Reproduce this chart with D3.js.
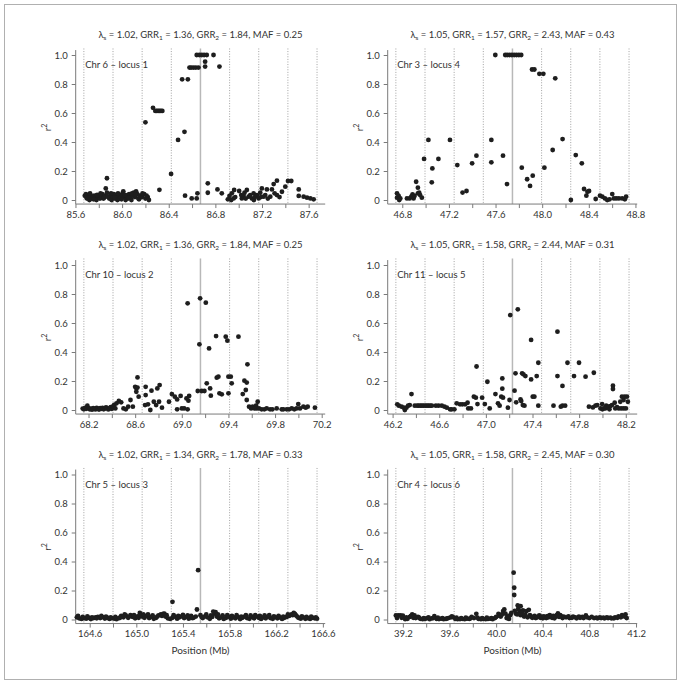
<!DOCTYPE html>
<html><head><meta charset="utf-8">
<script src="https://cdn.jsdelivr.net/npm/d3@7"></script>
<style>
body{margin:0;background:#fff;}
svg text{font-family:Lato,"Open Sans",sans-serif;fill:#333;}
</style></head><body>
<svg id="c" width="681" height="685"></svg>
<script>
// ---------- data ----------
const chrLabels = ["Chr 6 \u2013 locus 1","Chr 10 \u2013 locus 2","Chr 5 \u2013 locus 3","Chr 3 \u2013 locus 4","Chr 11 \u2013 locus 5","Chr 4 \u2013 locus 6"];
const lambdaS = ["1.02","1.02","1.02","1.05","1.05","1.05"];
const grr1 = ["1.36","1.36","1.34","1.57","1.58","1.58"];
const grr2 = ["1.84","1.84","1.78","2.43","2.44","2.45"];
const maf = ["0.25","0.25","0.33","0.43","0.31","0.30"];
const locusPos = [86.672, 69.16, 165.55, 47.745, 47.228, 40.14];
const xTickLabels = [
  [85.6,86.0,86.4,86.8,87.2,87.6],
  [68.2,68.6,69.0,69.4,69.8,70.2],
  [164.6,165.0,165.4,165.8,166.2,166.6],
  [46.8,47.2,47.6,48.0,48.4,48.8],
  [46.2,46.6,47.0,47.4,47.8,48.2],
  [39.2,39.6,40.0,40.4,40.8,41.2]];
const yTicks = [0,0.2,0.4,0.6,0.8,1.0];

// [position (Mb), r2]
const locus1 = [[85.68,.03],[85.69,.04],[85.70,.01],[85.71,.02],[85.72,.00],[85.73,.03],[85.74,.01],[85.75,.02],[85.76,.03],[85.77,.01],[85.78,.00],[85.79,.02],[85.80,.03],[85.81,.01],[85.82,.02],[85.83,.04],[85.84,.01],[85.85,.03],[85.86,.08],[85.87,.15],[85.87,.05],[85.88,.02],[85.89,.01],[85.90,.03],[85.91,.00],[85.92,.02],[85.93,.04],[85.94,.01],[85.95,.02],[85.96,.00],[85.97,.03],[85.98,.01],[85.99,.02],[86.00,.04],[86.01,.06],[86.02,.02],[86.03,.00],[86.04,.03],[86.05,.01],[86.06,.04],[86.07,.02],[86.08,.00],[86.09,.03],[86.10,.05],[86.11,.02],[86.12,.06],[86.13,.04],[86.14,.01],[86.15,.03],[86.17,.02],[86.19,.04],[86.20,.01],[86.22,.02],[86.23,.00],
 [85.695,.015],[85.725,.045],[85.755,.005],[85.785,.035],[85.815,.045],[85.845,.015],[85.875,.025],[85.905,.045],[85.935,.015],[85.965,.045],[85.995,.005],[86.025,.035],[86.055,.015],[86.085,.045],[86.115,.035],[86.145,.005],[86.175,.045],[86.21,.03],
 [86.20,.536],[86.265,.636],[86.285,.614],[86.297,.614],[86.309,.614],[86.321,.614],[86.333,.614],[86.345,.614],[86.32,.07],[86.42,.18],[86.48,.414],[86.535,.47],[86.54,.03],[86.515,.832],[86.564,.832],[86.578,.913],[86.592,.913],[86.612,.913],[86.632,.913],[86.655,.913],[86.64,1],[86.663,1],[86.683,1],[86.703,1],[86.726,1],[86.784,1],[86.712,.954],[86.712,.92],[86.835,.92],
 [86.597,.011],[86.64,.011],[86.646,.046],[86.735,.05],[86.735,.115],[86.818,.073],[86.855,.046],
 [86.907,.005],[86.921,.028],[86.936,.0],[86.941,.046],[86.961,.069],[86.956,.011],[86.97,.02],[87.004,.062],[87.022,.034],[87.027,.011],[87.042,.028],[87.05,.05],[87.06,.01],[87.07,.069],[87.085,.023],[87.099,.034],[87.113,.011],[87.128,.046],[87.13,.0],[87.142,.023],[87.156,.034],[87.171,.011],[87.185,.05],[87.19,.02],[87.199,.08],[87.214,.023],[87.228,.034],[87.242,.073],[87.25,.01],[87.271,.023],[87.285,.073],[87.30,.11],[87.308,.046],[87.328,.133],[87.328,.034],[87.35,.02],[87.371,.057],[87.40,.092],[87.423,.131],[87.451,.131],[87.515,.073],[87.515,.028],[87.557,.023],[87.586,.016],[87.615,.011],[87.643,.005]];

const locus2 = [[68.15,.010],[68.16,.005],[68.17,.015],[68.18,.008],[68.19,.030],[68.20,.012],[68.21,.005],[68.22,.010],[68.23,.002],[68.24,.012],[68.25,.008],[68.26,.004],[68.27,.014],[68.28,.010],[68.29,.003],[68.30,.012],[68.31,.008],[68.32,.015],[68.33,.005],[68.34,.010],[68.35,.018],[68.36,.012],[68.37,.004],[68.38,.010],[68.39,.020],[68.40,.008],[68.41,.025],[68.42,.035],[68.43,.011],[68.44,.046],[68.46,.062],[68.48,.053],[68.50,.011],[68.52,.005],[68.54,.023],[68.56,.069],[68.58,.023],[68.60,.16],[68.61,.15],[68.62,.225],[68.61,.126],[68.63,.092],[68.62,.155],[68.69,.16],[68.69,.103],[68.685,.034],[68.71,.039],[68.73,.0],[68.74,.133],[68.76,.057],[68.78,.034],[68.79,.149],[68.81,.172],[68.805,.057],[68.83,.016],[68.89,.057],[68.915,.11],[68.94,.092],[68.96,.073],[68.96,.005],[68.99,.097],[69.00,.011],[69.02,.011],[69.04,.08],[69.05,.736],
 [69.05,.005],[69.057,.064],[69.063,.097],[69.137,.131],[69.157,.77],[69.151,.453],[69.171,.131],[69.194,.131],[69.206,.74],[69.214,.184],[69.234,.425],[69.243,.149],[69.249,.099],[69.294,.51],[69.30,.223],[69.314,.23],[69.323,.115],[69.343,.108],[69.377,.506],[69.391,.478],[69.40,.115],[69.40,.23],[69.42,.23],[69.428,.184],[69.486,.506],[69.523,.11],[69.537,.202],[69.549,.138],[69.557,.189],[69.563,.315],[69.557,.069],[69.577,.023],[69.594,.011],[69.608,.023],[69.623,.011],[69.637,.030],[69.651,.057],[69.642,.011],[69.662,.011],[69.685,.005],[69.708,.005],[69.728,.011],[69.757,.005],[69.777,.005],[69.814,.011],[69.857,.005],[69.871,.005],[69.90,.005],[69.92,.005],[69.943,.011],[69.965,.005],[69.985,.011],[69.999,.041],[70.014,.011],[70.043,.023],[70.063,.016],[70.08,.023],[70.142,.016]];

const locus3 = [[164.49,.015],[164.51,.008],[164.53,.004],[164.55,.010],[164.57,.006],[164.59,.012],[164.61,.003],[164.63,.009],[164.65,.014],[164.67,.018],[164.69,.010],[164.71,.016],[164.73,.007],[164.75,.012],[164.77,.004],[164.79,.010],[164.81,.006],[164.83,.002],[164.85,.009],[164.87,.024],[164.89,.015],[164.91,.028],[164.93,.012],[164.95,.030],[164.97,.018],[164.99,.008],[165.01,.022],[165.03,.045],[165.05,.020],[165.07,.012],[165.09,.026],[165.11,.010],[165.13,.018],[165.15,.005],[165.17,.012],[165.19,.028],[165.21,.035],[165.23,.038],[165.25,.020],[165.27,.008],[165.29,.004],[165.31,.122],[165.31,.012],[165.33,.020],[165.35,.006],[165.37,.015],[165.39,.022],[165.41,.010],[165.43,.018],[165.45,.006],[165.47,.025],[165.49,.012],[165.51,.020],[165.52,.069],[165.53,.34],[165.55,.030],[165.57,.010],[165.59,.022],[165.61,.015],[165.63,.005],[165.65,.018],[165.67,.040],[165.68,.050],[165.69,.020],[165.71,.008],[165.73,.015],[165.75,.004],[165.77,.012],[165.79,.020],[165.81,.006],[165.83,.015],[165.85,.008],[165.87,.018],[165.89,.003],[165.91,.012],[165.93,.020],[165.95,.010],[165.97,.005],[165.99,.018],[166.01,.008],[166.03,.022],[166.05,.012],[166.07,.004],[166.09,.015],[166.11,.008],[166.13,.020],[166.15,.010],[166.17,.005],[166.19,.016],[166.21,.008],[166.23,.014],[166.25,.004],[166.27,.012],[166.29,.018],[166.31,.025],[166.33,.035],[166.35,.045],[166.37,.028],[166.39,.012],[166.41,.006],[166.43,.015],[166.45,.005],[166.47,.010],[166.49,.004],[166.51,.012],[166.53,.008],[166.55,.006],
 [164.50,.025],[164.54,.018],[164.58,.022],[164.62,.015],[164.66,.008],[164.70,.025],[164.74,.020],[164.78,.015],[164.82,.018],[164.86,.012],[164.90,.035],[164.94,.020],[164.98,.030],[165.02,.012],[165.04,.030],[165.06,.035],[165.10,.035],[165.14,.028],[165.18,.020],[165.22,.025],[165.24,.040],[165.26,.030],[165.32,.030],[165.36,.025],[165.40,.032],[165.44,.028],[165.48,.010],[165.56,.018],[165.60,.035],[165.64,.028],[165.66,.055],[165.70,.035],[165.74,.028],[165.78,.030],[165.82,.025],[165.86,.030],[165.90,.020],[165.94,.030],[165.98,.028],[166.02,.030],[166.06,.025],[166.10,.028],[166.14,.030],[166.18,.022],[166.22,.025],[166.26,.020],[166.30,.035],[166.34,.030],[166.36,.038],[166.38,.020],[166.42,.022],[166.46,.018],[166.50,.020],[166.54,.015]];

const locus4 = [[46.755,.046],[46.755,.016],[46.769,.028],[46.774,.0],[46.783,.011],[46.84,.011],[46.863,.011],[46.877,.023],[46.888,.039],[46.897,.011],[46.905,.028],[46.919,.126],[46.934,.085],[46.934,.046],[46.945,.05],[46.953,.034],[46.968,.016],[46.987,.283],[47.024,.414],[47.053,.122],[47.058,.218],[47.11,.283],[47.209,.414],[47.272,.241],[47.317,.051],[47.351,.062],[47.399,.253],[47.436,.306],[47.564,.414],[47.564,.26],[47.598,1],[47.664,.306],[47.698,.11],[47.683,1],[47.70,1],[47.72,1],[47.74,1],[47.76,1],[47.78,1],[47.80,1],[47.82,1],[47.825,.223],
 [47.871,.143],[47.896,.097],[47.913,.90],[47.919,.168],[47.933,.90],[47.976,.87],[48.01,.87],[48.019,.223],[48.09,.345],[48.112,.839],[48.175,.42],[48.246,.0],[48.288,.31],[48.34,.253],[48.359,.076],[48.379,.03],[48.388,.057],[48.402,.062],[48.459,.007],[48.496,.03],[48.516,.023],[48.538,.011],[48.558,.0],[48.578,.005],[48.601,.041],[48.615,.011],[48.635,.011],[48.658,.011],[48.686,.011],[48.709,.005],[48.72,.023]];

const locus5 = [[46.24,.039],[46.254,.03],[46.277,.023],[46.296,.016],[46.305,.0],[46.319,.016],[46.333,.03],[46.347,.034],[46.362,.11],[46.39,.03],[46.41,.03],[46.424,.03],[46.438,.03],[46.452,.03],[46.466,.03],[46.481,.03],[46.495,.03],[46.509,.03],[46.523,.03],[46.537,.03],[46.571,.03],[46.594,.03],[46.622,.03],[46.645,.023],[46.665,.016],[46.693,.005],[46.707,.005],[46.73,.005],[46.75,.046],[46.778,.039],[46.798,.039],[46.821,.039],[46.843,.05],[46.849,.011],[46.872,.011],[46.897,.092],[46.914,.085],[46.92,.30],[46.928,.041],[46.968,.085],[46.991,.041],[47.013,.195],[47.033,.011],[47.082,.11],[47.104,.046],[47.118,.03],[47.132,.092],[47.141,.218],[47.141,.147],[47.147,.085],[47.189,.016],[47.203,.069],[47.209,.655],[47.246,.133],[47.254,.253],[47.26,.053],[47.274,.694],[47.297,.073],[47.311,.253],[47.317,.034],[47.322,.246],[47.339,.234],[47.303,.062],[47.331,.03],[47.388,.211],[47.388,.483],[47.402,.092],[47.416,.092],[47.436,.234],[47.45,.326],[47.45,.03],[47.58,.03],[47.614,.54],[47.614,.234],[47.643,.023],[47.657,.166],[47.657,.03],[47.68,.03],[47.70,.326],[47.756,.234],[47.799,.326],[47.855,.23],[47.884,.023],[47.918,.018],[47.926,.257],[47.94,.03],[47.955,.034],[47.983,.011],[47.997,.041],[48.0,.005],[48.011,.011],[48.025,.011],[48.032,.03],[48.039,.018],[48.054,.023],[48.06,.005],[48.068,.027],[48.082,.034],[48.09,.168],[48.09,.145],[48.105,.05],[48.11,.011],[48.125,.02],[48.139,.011],[48.153,.057],[48.16,.011],[48.167,.092],[48.181,.069],[48.181,.011],[48.19,.092],[48.201,.011],[48.21,.092],[48.218,.057]];

const locus6 = [[39.14,.028],[39.16,.028],[39.18,.028],[39.20,.026],[39.22,.002],[39.24,.005],[39.26,.018],[39.28,.035],[39.29,.012],[39.31,.010],[39.33,.018],[39.35,.005],[39.37,.002],[39.39,.004],[39.41,.010],[39.43,.002],[39.45,.008],[39.47,.023],[39.49,.004],[39.51,.003],[39.53,.006],[39.55,.002],[39.57,.004],[39.59,.010],[39.61,.014],[39.63,.016],[39.65,.004],[39.67,.002],[39.69,.003],[39.71,.005],[39.73,.002],[39.75,.006],[39.77,.004],[39.79,.018],[39.83,.039],[39.85,.004],[39.87,.002],[39.89,.005],[39.91,.002],[39.93,.004],[39.95,.006],[39.97,.002],[39.99,.010],[40.02,.039],[40.04,.020],[40.06,.058],[40.07,.069],[40.09,.010],[40.11,.004],[40.12,.030],[40.15,.323],[40.155,.219],[40.155,.169],[40.17,.040],[40.185,.097],[40.19,.074],[40.20,.058],[40.21,.092],[40.23,.062],[40.21,.030],[40.24,.020],[40.26,.058],[40.28,.067],[40.27,.015],[40.30,.020],[40.32,.018],[40.34,.010],[40.36,.020],[40.38,.012],[40.40,.008],[40.42,.015],[40.44,.023],[40.46,.030],[40.48,.012],[40.50,.008],[40.53,.042],[40.55,.030],[40.57,.010],[40.60,.015],[40.63,.010],[40.66,.020],[40.69,.008],[40.72,.012],[40.74,.018],[40.77,.028],[40.80,.010],[40.84,.010],[40.87,.008],[40.90,.010],[40.93,.008],[40.96,.010],[40.99,.008],[41.02,.015],[41.05,.022],[41.08,.030],[41.11,.035],[41.12,.010],
 [39.15,.010],[39.19,.012],[39.23,.015],[39.27,.025],[39.30,.028],[39.34,.012],[39.38,.010],[39.42,.015],[39.46,.010],[39.50,.012],[39.54,.010],[39.58,.008],[39.62,.022],[39.66,.012],[39.70,.010],[39.74,.012],[39.78,.008],[39.81,.010],[39.84,.012],[39.88,.010],[39.92,.012],[39.96,.010],[40.00,.018],[40.03,.025],[40.05,.035],[40.08,.040],[40.10,.022],[40.13,.045],[40.16,.060],[40.18,.035],[40.22,.045],[40.25,.035],[40.29,.030],[40.31,.012],[40.33,.025],[40.35,.015],[40.37,.028],[40.39,.020],[40.41,.022],[40.43,.010],[40.45,.015],[40.47,.020],[40.49,.025],[40.51,.020],[40.52,.030],[40.54,.018],[40.56,.022],[40.58,.020],[40.62,.022],[40.65,.012],[40.68,.015],[40.71,.020],[40.75,.010],[40.78,.015],[40.82,.018],[40.86,.012],[40.89,.015],[40.92,.012],[40.95,.015],[40.98,.012],[41.01,.008],[41.04,.012],[41.07,.015],[41.10,.020]];

const snps = [locus1, locus2, locus3, locus4, locus5, locus6];

// ---------- layout ----------
const W = 681, H = 685;
const colX = [75.7, 387.7], plotW = 249.5;
const rowTop = [55, 265, 474.5], unitH = 145;
const halfSpan = 1.07, gridStep = 0.25;
const yLo = -0.028, yHi = 1.034, gridTop = 1.045;

const svg = d3.select("#c");
svg.append("rect").attr("x",4.5).attr("y",4.5).attr("width",W-9).attr("height",H-10)
  .attr("fill","none").attr("stroke","#b0b0b0").attr("stroke-width",1);

snps.forEach((pts, i) => {
  const col = Math.floor(i/3), row = i%3;
  const x0 = colX[col], top = rowTop[row];
  const c = locusPos[i];
  const x = d3.scaleLinear().domain([c-halfSpan, c+halfSpan]).range([x0, x0+plotW]);
  const y = d3.scaleLinear().domain([0,1]).range([top+unitH, top]);
  const g = svg.append("g");

  // dotted guide lines
  const guides = [];
  for (let k=-4;k<=4;k++) if (k!==0) guides.push(c + k*gridStep);
  g.selectAll("line.guide").data(guides).join("line")
    .attr("x1",d=>x(d)).attr("x2",d=>x(d)).attr("y1",y(gridTop)).attr("y2",y(yLo))
    .attr("stroke","#8a8a8a").attr("stroke-width",0.8).attr("stroke-dasharray","1,1.6");
  // locus line
  g.append("line").attr("x1",x(c)).attr("x2",x(c)).attr("y1",y(gridTop)).attr("y2",y(yLo))
    .attr("stroke","#b8b8b8").attr("stroke-width",1.5);

  // axes
  const labs = xTickLabels[i];
  const allTicks = [];
  labs.forEach(v => { allTicks.push(v); const m = +(v+0.2).toFixed(1); if (m <= c+halfSpan) allTicks.push(m); });
  const xa = d3.axisBottom(x).tickValues(allTicks).tickSize(4).tickSizeOuter(0).tickPadding(3)
    .tickFormat(d => labs.some(v=>Math.abs(v-d)<1e-6) ? d.toFixed(1) : "");
  const gx = g.append("g").attr("transform",`translate(0,${y(yLo)})`).call(xa);
  gx.select(".domain").remove();
  gx.append("line").attr("x1",x0).attr("x2",x0+plotW).attr("stroke","#7a7a7a");
  gx.selectAll(".tick line").attr("stroke","#7a7a7a");
  gx.selectAll(".tick text").attr("font-size","9.5px").attr("fill","#333").style("font-family","Lato, sans-serif");

  const ya = d3.axisLeft(y).tickValues(yTicks).tickSize(4).tickPadding(4)
    .tickFormat(d => d===0 ? "0" : d.toFixed(1));
  const gy = g.append("g").attr("transform",`translate(${x0},0)`).call(ya);
  gy.select(".domain").remove();
  gy.append("line").attr("y1",y(yLo)).attr("y2",y(yHi)).attr("stroke","#7a7a7a");
  gy.selectAll(".tick line").attr("stroke","#7a7a7a");
  gy.selectAll(".tick text").attr("font-size","9.5px").attr("fill","#333").style("font-family","Lato, sans-serif");

  // points
  g.selectAll("circle").data(pts).join("circle")
    .attr("cx",d=>x(d[0])).attr("cy",d=>y(d[1])).attr("r",2.4).attr("fill","#1e1e1e");

  // title
  const t = g.append("text").attr("x",x0+plotW/2).attr("y",top-17).attr("text-anchor","middle").attr("font-size","9.5px");
  t.append("tspan").text("\u03bb");
  t.append("tspan").attr("dy",2).attr("font-size","6.5px").text("s");
  t.append("tspan").attr("dy",-2).text(` = ${lambdaS[i]}, GRR`);
  t.append("tspan").attr("dy",2).attr("font-size","6.5px").text("1");
  t.append("tspan").attr("dy",-2).text(` = ${grr1[i]}, GRR`);
  t.append("tspan").attr("dy",2).attr("font-size","6.5px").text("2");
  t.append("tspan").attr("dy",-2).text(` = ${grr2[i]}, MAF = ${maf[i]}`);

  // chromosome label
  g.append("text").attr("x",x0+9.5).attr("y",top+13).attr("font-size","9.5px").text(chrLabels[i]);

  // y label
  const yl = g.append("text").attr("transform",`translate(${x0-24.5},${top+unitH/2}) rotate(-90)`)
    .attr("text-anchor","middle").attr("font-size","10px");
  yl.append("tspan").text("r");
  yl.append("tspan").attr("dy",-4).attr("font-size","7px").text("2");

  if (row === 2) {
    g.append("text").attr("x",x0+plotW/2).attr("y",654).attr("text-anchor","middle")
      .attr("font-size","10px").text("Position (Mb)");
  }
});
</script>
</body></html>
